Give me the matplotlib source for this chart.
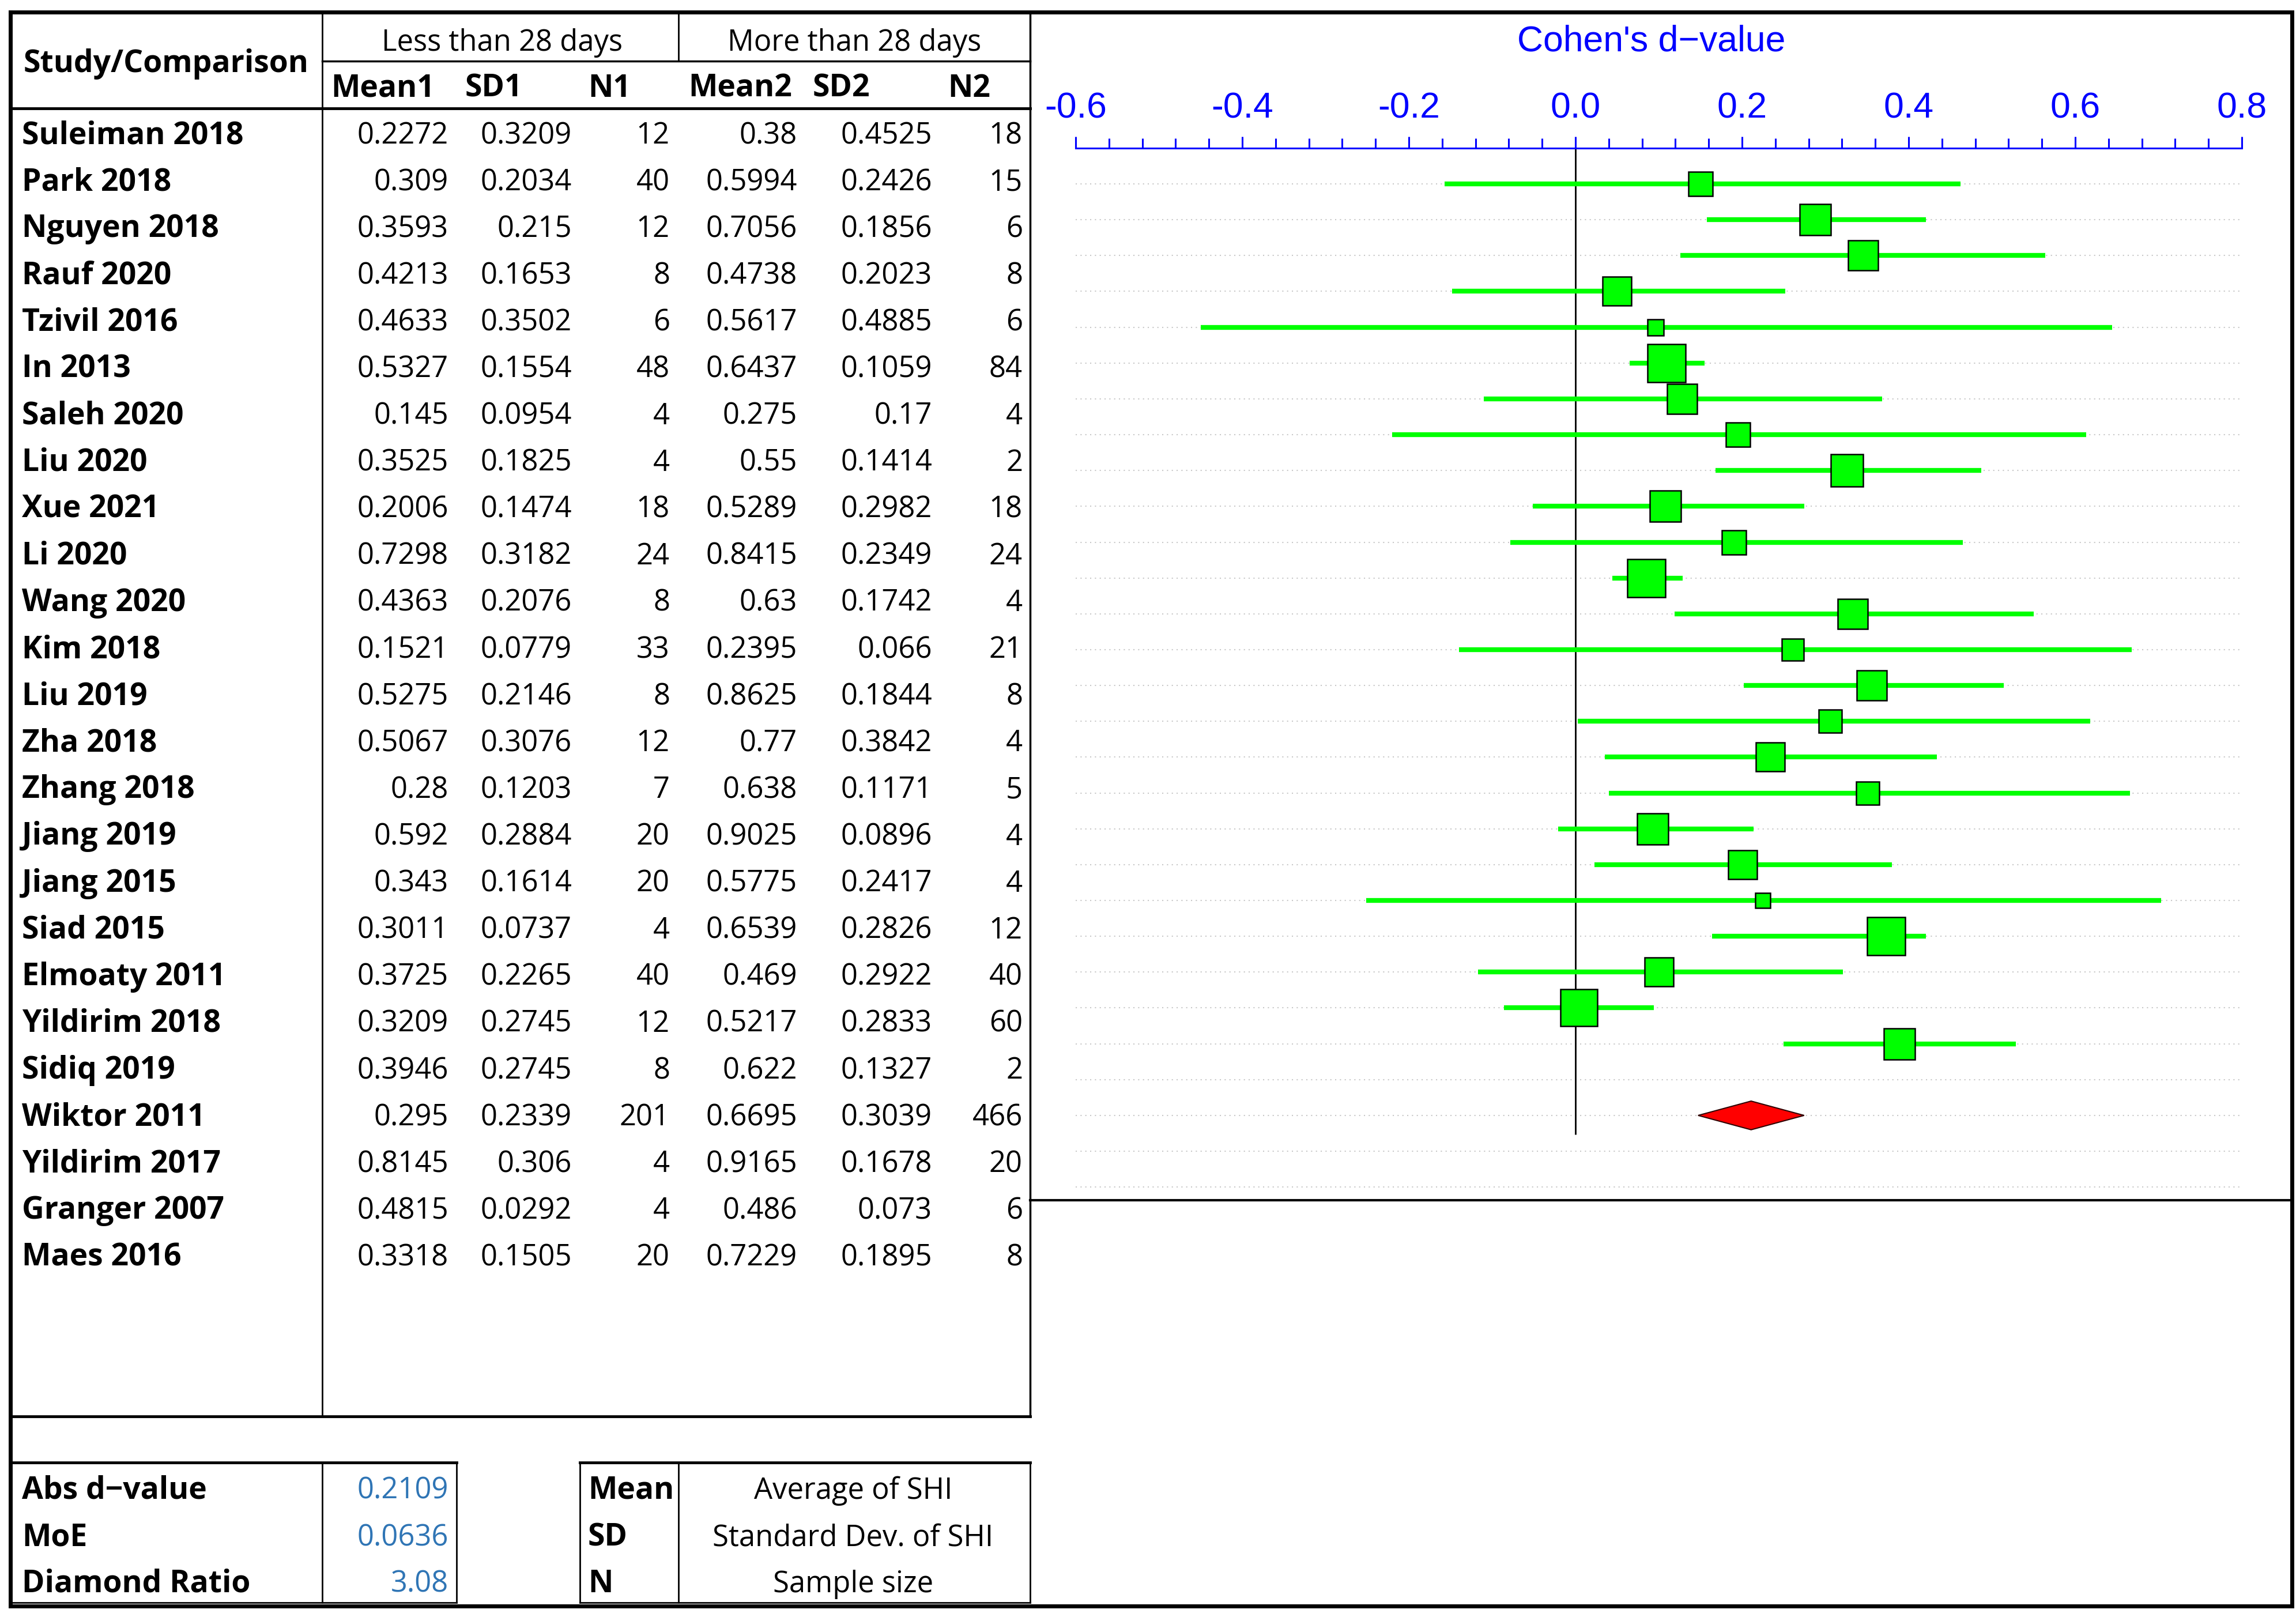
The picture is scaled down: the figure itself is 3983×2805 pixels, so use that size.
import numpy as np
import matplotlib.pyplot as plt
from matplotlib.ticker import MultipleLocator, FormatStrFormatter

plt.rcParams['axes.unicode_minus'] = False

W, H = 3983, 2805
DPI = 100

# ---- table data ----
studies = ['Suleiman 2018', 'Park 2018', 'Nguyen 2018', 'Rauf 2020', 'Tzivil 2016',
           'In 2013', 'Saleh 2020', 'Liu 2020', 'Xue 2021', 'Li 2020', 'Wang 2020',
           'Kim 2018', 'Liu 2019', 'Zha 2018', 'Zhang 2018', 'Jiang 2019', 'Jiang 2015',
           'Siad 2015', 'Elmoaty 2011', 'Yildirim 2018', 'Sidiq 2019', 'Wiktor 2011',
           'Yildirim 2017', 'Granger 2007', 'Maes 2016']
mean1 = [0.2272, 0.309, 0.3593, 0.4213, 0.4633, 0.5327, 0.145, 0.3525, 0.2006, 0.7298,
         0.4363, 0.1521, 0.5275, 0.5067, 0.28, 0.592, 0.343, 0.3011, 0.3725, 0.3209,
         0.3946, 0.295, 0.8145, 0.4815, 0.3318]
sd1 = [0.3209, 0.2034, 0.215, 0.1653, 0.3502, 0.1554, 0.0954, 0.1825, 0.1474, 0.3182,
       0.2076, 0.0779, 0.2146, 0.3076, 0.1203, 0.2884, 0.1614, 0.0737, 0.2265, 0.2745,
       0.2745, 0.2339, 0.306, 0.0292, 0.1505]
n1 = [12, 40, 12, 8, 6, 48, 4, 4, 18, 24, 8, 33, 8, 12, 7, 20, 20, 4, 40, 12, 8, 201, 4, 4, 20]
mean2 = [0.38, 0.5994, 0.7056, 0.4738, 0.5617, 0.6437, 0.275, 0.55, 0.5289, 0.8415,
         0.63, 0.2395, 0.8625, 0.77, 0.638, 0.9025, 0.5775, 0.6539, 0.469, 0.5217,
         0.622, 0.6695, 0.9165, 0.486, 0.7229]
sd2 = [0.4525, 0.2426, 0.1856, 0.2023, 0.4885, 0.1059, 0.17, 0.1414, 0.2982, 0.2349,
       0.1742, 0.066, 0.1844, 0.3842, 0.1171, 0.0896, 0.2417, 0.2826, 0.2922, 0.2833,
       0.1327, 0.3039, 0.1678, 0.073, 0.1895]
n2 = [18, 15, 6, 8, 6, 84, 4, 2, 18, 24, 4, 21, 8, 4, 5, 4, 4, 12, 40, 60, 2, 466, 20, 6, 8]

group_labels = ['Less than 28 days', 'More than 28 days']
col_labels = ['Mean1', 'SD1', 'N1', 'Mean2', 'SD2', 'N2']

# ---- forest plot ----
d_value = [0.150, 0.288, 0.345, 0.050, 0.096, 0.109, 0.128, 0.195, 0.326, 0.108,
           0.190, 0.085, 0.333, 0.261, 0.356, 0.306, 0.234, 0.351, 0.093, 0.201,
           0.225, 0.373, 0.100, 0.004, 0.389]
ci_low = [-0.157, 0.158, 0.126, -0.148, -0.450, 0.065, -0.110, -0.220, 0.168, -0.051,
          -0.078, 0.044, 0.119, -0.140, 0.202, 0.003, 0.035, 0.040, -0.021, 0.023,
          -0.251, 0.164, -0.117, -0.086, 0.250]
ci_high = [0.462, 0.421, 0.564, 0.252, 0.644, 0.155, 0.368, 0.613, 0.487, 0.275,
           0.465, 0.129, 0.550, 0.668, 0.514, 0.618, 0.434, 0.666, 0.214, 0.380,
           0.703, 0.421, 0.321, 0.094, 0.529]
study_weight = [3.0, 3.9, 3.7, 3.6, 2.0, 4.7, 3.8, 3.0, 4.0, 3.9, 3.0, 4.7, 3.7, 2.7, 3.8,
                2.9, 3.6, 2.9, 3.9, 3.6, 1.9, 4.7, 3.6, 4.6, 3.9]
overall_d = 0.2109
overall_moe = 0.0636

summary_labels = ['Abs d\u2212value', 'MoE', 'Diamond Ratio']
summary_values = ['0.2109', '0.0636', '3.08']
legend_keys = ['Mean', 'SD', 'N']
legend_desc = ['Average of SHI', 'Standard Dev. of SHI', 'Sample size']

TABLE_FONT = ['Open Sans', 'DejaVu Sans']
AXIS_FONT = ['Liberation Sans', 'DejaVu Sans']
FS = 36.5       # regular table text
FS_B = 38.5     # bold table text
BLUE = '#0000ff'
VAL_BLUE = '#2f75b5'
GREEN = '#00ff00'


def fmt(v):
    return f'{v:g}'


fig = plt.figure(figsize=(W / DPI, H / DPI), dpi=DPI)
fig.patch.set_facecolor('white')

# background axes in pixel coordinates for the table and frames
bg = fig.add_axes([0, 0, 1, 1])
bg.set_xlim(0, W)
bg.set_ylim(H, 0)
bg.axis('off')


def hline(y, x0, x1, lw=2.0):
    bg.plot([x0, x1], [y, y], color='black', lw=lw, solid_capstyle='projecting')


def vline(x, y0, y1, lw=2.0):
    bg.plot([x, x], [y0, y1], color='black', lw=lw, solid_capstyle='projecting')


L, T, R, B = 18, 21, 3976, 2786
TR = 1787  # table right edge
COL_A = 559
COL_B = 1177

# outer frame
bg.plot([L, R, R, L, L], [T, T, B, B, T], color='black', lw=5, solid_joinstyle='miter')
vline(COL_A, T, 2457)
vline(COL_B, T, 106)
hline(106, COL_A, TR, lw=2.5)
hline(188, L, TR, lw=3.5)
vline(TR, T, 2457, lw=2.5)
hline(2457, L, TR, lw=3.5)
hline(2082, TR, R, lw=3)

# bottom boxes
box_top, box_bot = 2537, 2780
hline(box_top, L, 792, lw=3.5)
hline(box_bot, L, 792)
vline(792, box_top, box_bot)
vline(COL_A, box_top, box_bot)
hline(box_top, 1006, TR, lw=3.5)
hline(box_bot, 1006, TR)
vline(1006, box_top, box_bot)
vline(COL_B, box_top, box_bot)
vline(TR, box_top, box_bot)

# header
bg.text(41, 125, 'Study/Comparison', family=TABLE_FONT, fontsize=FS_B, fontweight='bold',
        ha='left', va='baseline')
bg.text(871, 88, group_labels[0], family=TABLE_FONT, fontsize=FS, ha='center', va='baseline')
bg.text(1482, 88, group_labels[1], family=TABLE_FONT, fontsize=FS, ha='center', va='baseline')
head_x = [574, 807, 1020, 1194, 1410, 1644]
for x, lab in zip(head_x, col_labels):
    bg.text(x, 168, lab, family=TABLE_FONT, fontsize=FS_B, fontweight='bold',
            ha='left', va='baseline')

# rows
col_right = [778, 992, 1162, 1383, 1617, 1774]
for i, name in enumerate(studies):
    yb = 249 + 81.1 * i
    bg.text(38, yb, name, family=TABLE_FONT, fontsize=FS_B, fontweight='bold',
            ha='left', va='baseline')
    vals = [fmt(mean1[i]), fmt(sd1[i]), str(n1[i]), fmt(mean2[i]), fmt(sd2[i]), str(n2[i])]
    for x, v in zip(col_right, vals):
        bg.text(x, yb, v, family=TABLE_FONT, fontsize=FS, ha='right', va='baseline')

# summary and legend boxes
for j in range(3):
    yb = 2600 + 81 * j
    bg.text(38, yb, summary_labels[j], family=TABLE_FONT, fontsize=FS_B, fontweight='bold',
            ha='left', va='baseline')
    bg.text(778, yb, summary_values[j], family=TABLE_FONT, fontsize=FS, color=VAL_BLUE,
            ha='right', va='baseline')
    bg.text(1020, yb, legend_keys[j], family=TABLE_FONT, fontsize=FS_B, fontweight='bold',
            ha='left', va='baseline')
    bg.text(1480, yb, legend_desc[j], family=TABLE_FONT, fontsize=FS,
            ha='center', va='baseline')

# title of the forest panel
bg.text(2865, 72, 'Cohen\'s d\u2212value', family=AXIS_FONT, fontsize=45, color=BLUE,
        ha='center', va='center')

# ---- forest axes ----
x_left, x_right = 1866, 3889
y_top, y_bot = 257, 2082
ax = fig.add_axes([x_left / W, 1 - y_bot / H, (x_right - x_left) / W, (y_bot - y_top) / H])
ax.set_facecolor('none')
row0, row_step = 319, 62.15
ax.set_xlim(-0.6, 0.8)
ax.set_ylim((y_bot - row0) / row_step, (y_top - row0) / row_step)

n_rows = 29
for r in range(n_rows):
    ax.plot([-0.6, 0.8], [r, r], color='#c8c8c8', lw=1.5, ls=(0, (1, 3)), zorder=1)

ax.vlines(0, (y_top - row0) / row_step, 26.53, color='black', lw=2, zorder=2)

rows = np.arange(len(d_value))
ax.hlines(rows, ci_low, ci_high, color=GREEN, lw=6, zorder=3)
for r, d, w in zip(rows, d_value, study_weight):
    ax.plot(d, r, 's', ms=w * 10, mfc=GREEN, mec='black', mew=1.8, zorder=4)

diamond_row = 26
ax.fill([overall_d - overall_moe, overall_d, overall_d + overall_moe, overall_d],
        [diamond_row, diamond_row - 0.4, diamond_row, diamond_row + 0.4],
        facecolor='#ff0000', edgecolor='#300000', lw=1.5, zorder=4)

for s in ['bottom', 'left', 'right']:
    ax.spines[s].set_visible(False)
ax.spines['top'].set_color(BLUE)
ax.spines['top'].set_linewidth(2.2)
ax.xaxis.tick_top()
ax.set_xticks([-0.6, -0.4, -0.2, 0.0, 0.2, 0.4, 0.6, 0.8])
ax.xaxis.set_major_formatter(FormatStrFormatter('%.1f'))
ax.xaxis.set_minor_locator(MultipleLocator(0.04))
ax.tick_params(axis='x', which='major', direction='out', length=14.5, width=2.2,
               color=BLUE, labelcolor=BLUE, labelsize=45, pad=14)
ax.tick_params(axis='x', which='minor', direction='out', length=12, width=2.2, color=BLUE)
for lab in ax.get_xticklabels():
    lab.set_family(AXIS_FONT)
ax.set_yticks([])

fig.savefig('out.png', dpi=DPI)
